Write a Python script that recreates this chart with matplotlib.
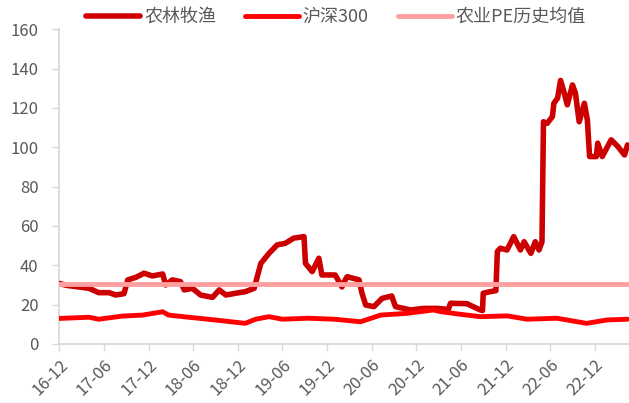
import matplotlib
matplotlib.use("Agg")
from matplotlib import pyplot as plt

plt.rcParams['font.family'] = ['Noto Sans CJK SC', 'DejaVu Sans']

# x values are months counted from 2016-12
agri_t = [0.0, 1.0, 2.2, 4.0, 5.3, 6.7, 7.6, 8.7, 9.2, 10.3, 11.4, 12.5, 13.9, 14.3, 15.2,
          16.3, 16.8, 17.9, 19.0, 20.6, 21.5, 22.4, 23.7, 25.0, 26.2, 27.1, 28.2, 29.3,
          30.4, 31.5, 32.9, 33.1, 34.0, 34.9, 35.3, 37.1, 38.0, 38.5, 38.7, 40.3, 40.7,
          41.2, 42.3, 43.4, 44.7, 45.2, 46.3, 47.2, 49.0, 50.8, 52.3, 52.6, 54.8, 56.6,
          56.9, 57.0, 57.9, 58.7, 58.9, 59.3, 60.2, 61.1, 62.0, 62.5, 63.4, 64.0, 64.5,
          64.9, 65.1, 65.6, 66.3, 66.5, 67.0, 67.4, 67.9, 68.3, 69.0, 69.4, 69.9, 70.6,
          71.0, 71.3, 72.2, 72.4, 73.0, 74.2, 75.1, 76.0, 76.4]
agri_v = [30.8, 29.8, 29.2, 28.3, 26.1, 26.1, 24.9, 25.6, 32.6, 33.9, 36.0, 34.6, 35.6, 30.0, 32.6,
          31.7, 27.5, 28.3, 24.9, 23.7, 27.5, 24.9, 25.8, 26.6, 28.3, 41.0, 46.1, 50.4,
          51.2, 53.8, 54.6, 41.0, 36.8, 43.6, 35.1, 35.1, 29.0, 33.0, 34.2, 32.6, 25.8,
          19.8, 19.0, 23.2, 24.4, 19.0, 18.1, 17.3, 18.1, 18.1, 17.6, 20.7, 20.5, 17.3,
          17.0, 25.8, 26.6, 27.1, 47.0, 48.7, 47.8, 54.6, 47.8, 52.0, 46.1, 52.0, 47.8,
          52.0, 113.0, 112.2, 115.6, 122.4, 125.0, 134.0, 127.5, 121.6, 131.7, 127.5, 113.0, 122.4,
          113.9, 95.3, 95.3, 102.1, 95.3, 103.8, 100.4, 96.1, 101.2]

hs300_t = [0.0, 4.0, 5.3, 8.5, 11.2, 13.9, 14.7, 17.4, 21.0, 25.0, 26.4, 28.2, 30.0, 33.5,
           37.0, 40.5, 43.2, 46.8, 50.3, 51.2, 53.5, 56.6, 60.2, 62.9, 66.9, 70.9, 73.6, 76.4]
hs300_v = [13.0, 13.6, 12.6, 14.2, 14.7, 16.4, 14.7, 13.6, 12.2, 10.5, 12.6, 13.9, 12.6, 13.1,
           12.6, 11.3, 14.7, 15.6, 17.3, 16.5, 15.3, 13.9, 14.3, 12.6, 13.1, 10.5, 12.2, 12.6]

pe_mean = 30.5

tick_pos = [0, 6, 12, 18, 24, 30, 36, 42, 48, 54, 60, 66, 72]
tick_labels = ['16-12', '17-06', '17-12', '18-06', '18-12', '19-06', '19-12',
               '20-06', '20-12', '21-06', '21-12', '22-06', '22-12']

grey = '#595959'
fig = plt.figure(figsize=(6.29, 4.03), dpi=100)
ax = fig.add_axes([59.3 / 629, 59 / 403, 1 - 59.3 / 629, (344 - 29.3) / 403])

ax.plot(agri_t, agri_v, color='#CC0000', linewidth=4.0, solid_capstyle='round',
        solid_joinstyle='round', label='农林牧渔', zorder=3)
ax.plot(hs300_t, hs300_v, color='#FF0000', linewidth=3.5, solid_capstyle='round',
        solid_joinstyle='round', label='沪深300', zorder=3)
ax.plot([0, 76.6], [pe_mean, pe_mean], color='#FF9F9F', linewidth=3.5,
        solid_capstyle='round', label='农业PE历史均值', zorder=4)

ax.set_xlim(0, 76.6)
ax.set_ylim(0, 160)
ax.set_yticks(range(0, 161, 20))
ax.set_xticks(tick_pos)
ax.set_xticklabels(tick_labels, rotation=45, ha='right', rotation_mode='anchor')

for s in ['top', 'right']:
    ax.spines[s].set_visible(False)
for s in ['left', 'bottom']:
    ax.spines[s].set_color('#D9D9D9')
    ax.spines[s].set_linewidth(1.3)
ax.tick_params(colors='#D9D9D9', labelcolor=grey, labelsize=12, length=5, width=1)
ax.tick_params(axis='y', pad=10)
ax.tick_params(axis='x', pad=4)

fig.legend(loc='center', bbox_to_anchor=(336 / 629, 1 - 17 / 403), ncol=3, frameon=False,
           fontsize=13, handlelength=3.0, handletextpad=0.2, columnspacing=1.6,
           labelcolor=grey)

fig.savefig('out.png', dpi=100)
